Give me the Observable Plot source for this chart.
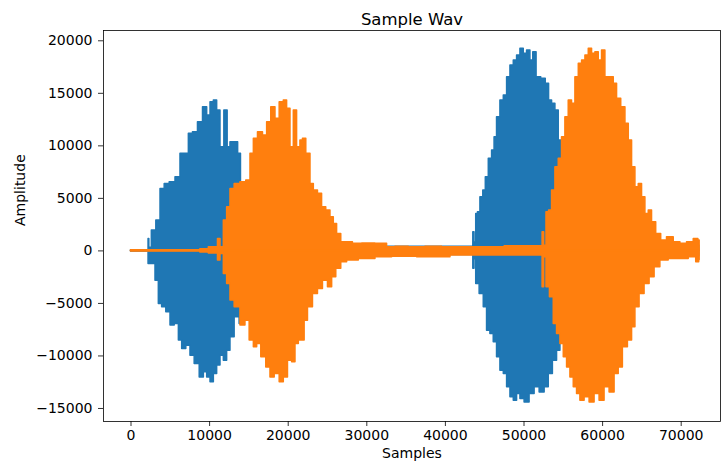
<!DOCTYPE html>
<html>
<head>
<meta charset="utf-8">
<script src="https://cdn.jsdelivr.net/npm/d3@7"></script>
<script src="https://cdn.jsdelivr.net/npm/@observablehq/plot@0.6"></script>
<style>
  html, body { margin: 0; padding: 0; background: #fff; }
</style>
</head>
<body>
<div id="chart"></div>
<script>
// Channel 1 (blue) upper envelope
const blueTopX = [0, 2200, 2265, 2400, 2900, 3540, 3970, 4600, 5240, 6080, 6510, 7150, 7570, 8200, 8840, 9480, 9900, 10330, 10750, 11170, 11600, 12150, 12440, 12870, 13420, 13840, 14140, 14500, 30000, 43500, 43600, 43800, 44040, 44240, 44670, 44970, 45310, 45730, 46150, 46360, 46780, 47220, 47640, 48060, 48490, 48910, 49330, 49760, 50180, 50600, 51030, 51330, 51870, 52510, 53020, 53360, 53780, 54210, 54630, 54850, 55300, 72300];
const blueTop = [60, 60, 1140, 300, 1930, 2890, 5900, 6380, 6530, 7010, 9240, 9240, 11140, 11300, 12250, 13680, 12890, 14150, 14310, 13360, 9870, 13360, 9870, 10340, 10340, 9240, 6380, 600, 400, 400, 1770, 800, 3520, 3680, 5100, 5740, 7010, 8760, 9550, 10820, 12720, 14310, 14790, 16530, 17650, 18120, 18600, 19240, 18760, 19080, 18120, 18920, 16530, 16380, 15900, 14310, 14000, 13360, 10500, 8910, 500, 500];
// Channel 1 (blue) lower envelope
const blueBotX = [0, 2200, 2265, 2900, 3330, 3750, 4170, 4810, 5240, 5880, 6300, 6720, 7350, 7780, 8420, 9060, 9480, 9900, 10330, 10750, 11170, 11600, 12020, 12440, 12870, 13500, 14140, 14400, 30000, 43500, 43600, 43800, 44040, 44670, 45090, 45510, 45940, 46360, 46780, 47220, 47640, 48060, 48490, 48910, 49330, 49760, 50390, 51030, 51670, 52310, 52940, 53360, 53990, 54420, 54850, 55300, 72300];
const blueBot = [-60, -60, -1240, -1240, -2830, -5050, -5370, -5850, -7110, -6950, -8540, -9330, -9020, -9970, -10760, -12040, -11560, -12040, -12510, -11710, -10920, -9970, -10450, -9500, -8230, -6320, -6950, -600, -500, -400, -1710, -800, -3140, -4100, -5370, -7590, -7900, -8700, -10130, -11400, -11710, -12990, -13940, -14260, -13620, -14100, -14420, -13620, -12990, -13470, -12990, -11710, -10450, -9500, -8540, -500, -500];
// Channel 2 (orange) upper envelope
const orangeTopX = [0, 8800, 8840, 10960, 11170, 11600, 12020, 12440, 12870, 13500, 14350, 14980, 15420, 15840, 16470, 17110, 17530, 18160, 18600, 19230, 19650, 20070, 20510, 20920, 21340, 21770, 21980, 22620, 23050, 23470, 24100, 24520, 25160, 25590, 26010, 26430, 27070, 27700, 28770, 30040, 32160, 33000, 34280, 36400, 38520, 40640, 42770, 52300, 52430, 52700, 53020, 53360, 53780, 54210, 54630, 55050, 55480, 55900, 56320, 56760, 57180, 57600, 58030, 58450, 58870, 59300, 59720, 60140, 60570, 61210, 61630, 62050, 62690, 63120, 63540, 63960, 64390, 64810, 65230, 65660, 66080, 66500, 67140, 67770, 68620, 69480, 70320, 71170, 72020, 72350];
const orangeTop = [60, 60, 150, 350, 1140, 350, 2890, 4150, 5900, 6380, 6530, 6700, 9240, 10670, 11300, 10980, 12250, 13680, 12570, 14150, 14310, 13520, 9870, 13360, 9870, 10500, 10670, 9240, 6380, 5740, 5430, 4150, 3840, 3200, 2570, 1620, 820, 820, 670, 700, 670, 350, 400, 350, 400, 350, 350, 450, 1770, 500, 3680, 3840, 5740, 7960, 8760, 10820, 12720, 14310, 14000, 16530, 17810, 18120, 18600, 19240, 18760, 18920, 18120, 19080, 16530, 16530, 15900, 14480, 13680, 12100, 10500, 7960, 6060, 6380, 5100, 3520, 3840, 2720, 1620, 980, 1300, 820, 670, 820, 1140, 1000];
// Channel 2 (orange) lower envelope
const orangeBotX = [0, 8800, 8840, 10960, 11170, 11600, 12020, 12440, 12870, 13500, 14350, 14770, 15420, 15840, 16260, 16890, 17530, 17960, 18600, 19230, 19650, 20290, 20710, 21140, 21560, 21980, 22200, 22830, 23470, 24100, 24740, 25380, 25800, 26430, 27070, 27920, 30040, 32160, 34280, 38520, 42770, 52300, 52430, 52700, 53020, 53580, 53990, 54420, 54850, 55270, 55690, 56120, 56540, 56960, 57390, 58030, 58660, 59300, 59930, 60570, 61210, 61840, 62260, 62900, 63540, 63960, 64390, 65020, 65660, 66300, 66930, 67770, 69040, 70320, 71590, 72230, 72350];
const orangeBot = [-60, -60, -150, -250, -920, -300, -2190, -3140, -4730, -5370, -7110, -6640, -8540, -9180, -8860, -10130, -11090, -12040, -11710, -12510, -12040, -10450, -10610, -8860, -8540, -8540, -6640, -5370, -4100, -3620, -2830, -3470, -2510, -1710, -1090, -920, -760, -610, -550, -610, -450, -450, -3470, -600, -3470, -4420, -6950, -7900, -8860, -10130, -11090, -12040, -12990, -13620, -14260, -13940, -14420, -13620, -14260, -12990, -13470, -11710, -11090, -9180, -8540, -7270, -5370, -4100, -3140, -2510, -1560, -920, -760, -760, -610, -1090, -900];

const xTicks = [0, 10000, 20000, 30000, 40000, 50000, 60000, 70000];
const yTicks = [-15000, -10000, -5000, 0, 5000, 10000, 15000, 20000];
const titleText = "Sample Wav";
const xLabel = "Samples";
const yLabel = "Amplitude";

const pts = (xs, ys) => xs.map((x, i) => ({x, y: ys[i]}));
const blue = "#1f77b4", orange = "#ff7f0e";
const fmt = d3.format("d");

const chart = Plot.plot({
  width: 721,
  height: 469,
  marginLeft: 103,
  marginRight: 1,
  marginTop: 30,
  marginBottom: 48,
  x: {domain: [-3500, 75000]},
  y: {domain: [-16240, 20980]},
  style: {fontFamily: "DejaVu Sans", fontSize: "14px", color: "black", background: "white", overflow: "visible"},
  marks: [
    Plot.areaY(pts(blueTopX, blueTop), {x: "x", y: "y", curve: "step", fill: blue, stroke: blue, strokeWidth: 1.5}),
    Plot.areaY(pts(blueBotX, blueBot), {x: "x", y: "y", curve: "step", fill: blue, stroke: blue, strokeWidth: 1.5}),
    Plot.areaY(pts(orangeTopX, orangeTop), {x: "x", y: "y", curve: "step", fill: orange, stroke: orange, strokeWidth: 1.5}),
    Plot.areaY(pts(orangeBotX, orangeBot), {x: "x", y: "y", curve: "step", fill: orange, stroke: orange, strokeWidth: 1.5}),
    Plot.frame({stroke: "black", strokeWidth: 0.8}),
    Plot.axisX({ticks: xTicks, tickFormat: fmt, tickSize: 5, tickPadding: 4, strokeWidth: 0.8, label: null}),
    Plot.axisY({ticks: yTicks, tickFormat: fmt, tickSize: 5, tickPadding: 6, strokeWidth: 0.8, label: null}),
    Plot.text([titleText], {text: d => d, frameAnchor: "top", dy: -17, fontSize: 16.5}),
    Plot.text([xLabel], {text: d => d, frameAnchor: "bottom", dy: 36}),
    Plot.text([yLabel], {text: d => d, frameAnchor: "left", dx: -83, rotate: -90})
  ]
});
document.getElementById("chart").appendChild(chart);
</script>
</body>
</html>
